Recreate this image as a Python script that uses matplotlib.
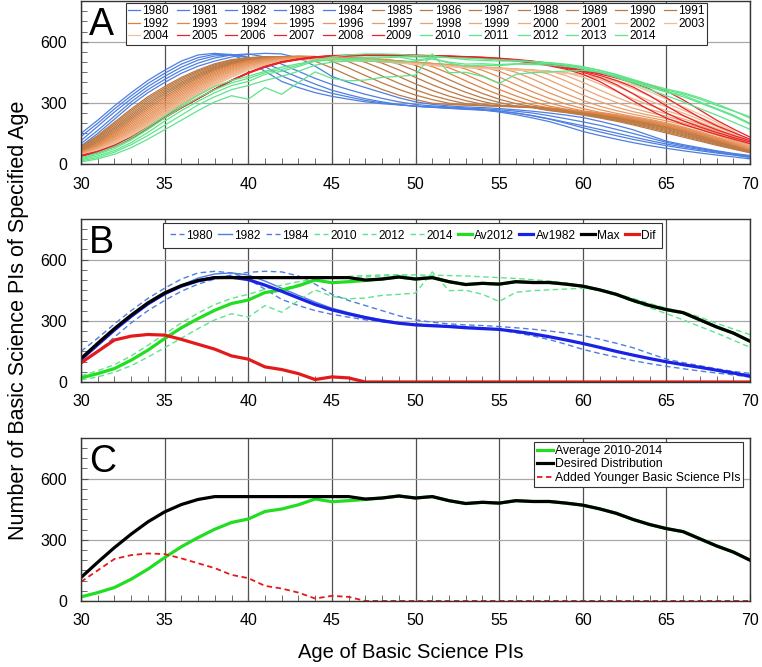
import numpy as np
import matplotlib
matplotlib.use("Agg")
import matplotlib.pyplot as plt
from matplotlib.ticker import MultipleLocator

plt.rcParams['font.family'] = ['Liberation Sans', 'DejaVu Sans']

ages = list(range(30, 71))

# panel A: PIs by age, one curve per year
y1980 = [150,215,285,350,410,460,505,535,543,535, 505,455,405,375,350,332,318,305,296,290, 284,280,276,272,266,255,242,226,208,185, 160,140,122,105,90,77,65,54,44,35,25]
y1981 = [135,200,270,335,395,445,490,522,538,538, 520,478,432,398,370,347,329,312,300,291, 283,279,274,270,266,260,250,236,220,200, 178,158,139,121,105,90,77,65,54,44,32]
y1982 = [115,185,255,320,380,430,475,510,530,535, 525,495,460,425,392,362,340,320,305,292, 283,278,273,268,264,258,250,238,222,205, 188,170,152,133,115,98,84,71,58,46,34]
y1983 = [100,165,235,305,365,415,460,495,520,535, 540,525,490,455,420,390,365,342,322,305, 292,285,280,275,271,266,259,250,237,222, 207,190,170,150,128,106,90,76,62,50,38]
y1984 = [88,150,220,290,350,400,445,480,505,525, 538,543,540,520,480,430,400,375,350,325, 305,293,285,280,277,272,266,259,250,240, 228,210,190,168,140,112,95,80,65,52,42]
y1985 = [85,140,205,270,330,380,425,462,492,512, 522,526,527,526,504,471,434,398,366,338, 316,298,292,289,286,283,280,276,262,252, 240,226,210,192,172,152,132,112,92,73,55]
y1986 = [82,135,198,262,322,372,418,456,487,508, 520,525,527,527,526,504,471,434,398,366, 338,316,298,290,287,284,281,277,264,254, 243,229,214,197,178,158,138,117,96,76,57]
y1987 = [78,130,190,253,313,364,410,450,482,504, 518,524,527,528,527,524,502,469,432,396, 364,336,314,296,288,285,282,278,266,256, 245,232,217,201,183,164,143,122,100,79,59]
y1988 = [74,124,182,244,304,356,402,443,477,500, 515,523,526,528,527,525,521,499,466,429, 393,361,333,311,293,286,283,279,268,258, 248,235,221,205,188,169,148,126,104,82,61]
y1989 = [70,118,175,236,295,348,395,437,472,497, 513,522,526,528,527,525,521,517,495,462, 425,389,357,329,307,289,284,280,270,261, 250,238,224,209,192,174,153,130,107,85,63]
y1990 = [66,112,168,228,286,340,388,431,467,494, 511,521,525,527,527,524,521,517,512,490, 457,420,384,352,324,302,284,281,272,263, 252,240,227,212,196,178,158,135,111,88,65]
y1991 = [62,106,160,220,277,330,380,424,462,490, 510,520,525,527,526,524,521,517,512,506, 484,451,414,378,346,318,296,282,274,265, 254,243,230,215,199,182,162,139,115,91,67]
y1992 = [60,100,153,212,268,322,372,417,456,486, 507,518,524,526,526,524,521,517,512,506, 500,478,445,408,372,340,312,290,276,267, 256,245,233,219,203,186,166,143,118,94,69]
y1993 = [58,96,147,204,259,313,364,410,450,481, 504,516,522,525,525,524,521,517,512,506, 500,494,472,439,402,366,334,306,284,269, 258,248,236,222,207,190,170,147,122,97,71]
y1994 = [56,92,141,196,250,304,356,403,444,476, 500,513,520,524,524,523,520,516,511,505, 499,493,488,466,433,396,360,328,300,278, 261,251,239,226,211,194,174,151,125,100,73]
y1995 = [54,88,135,188,241,295,348,396,438,471, 496,510,518,522,523,522,519,515,510,504, 498,492,487,482,460,427,390,354,322,294, 272,254,242,229,214,198,178,155,129,103,75]
y1996 = [52,85,130,181,233,287,340,389,432,466, 492,507,516,520,521,520,518,514,509,503, 497,491,486,481,477,455,422,385,349,317, 289,267,249,233,219,202,182,159,133,106,77]
y1997 = [50,82,125,174,225,279,332,382,426,461, 488,504,514,519,520,519,517,513,508,502, 496,490,485,480,476,472,450,417,380,344, 312,284,262,244,228,212,192,168,142,112,81]
y1998 = [48,79,120,168,218,271,324,375,420,456, 484,501,512,518,518,518,516,512,507,501, 495,489,484,479,475,471,467,445,412,375, 339,307,279,257,239,223,202,178,150,118,84]
y1999 = [47,76,116,162,211,264,317,368,414,451, 480,498,510,516,516,517,515,511,506,500, 494,488,483,478,474,470,466,462,440,407, 370,334,302,274,252,234,212,188,160,126,88]
y2000 = [46,74,112,157,205,257,310,361,408,446, 476,495,508,515,515,516,514,510,505,499, 493,487,482,477,473,469,465,461,456,434, 401,364,328,296,268,246,222,196,166,132,92]
y2001 = [45,72,108,152,199,250,303,354,402,441, 472,492,506,514,514,515,513,509,504,498, 492,486,481,476,472,468,464,460,455,448, 426,393,356,320,288,262,236,206,174,138,96]
y2002 = [44,70,105,147,194,244,297,348,396,436, 468,489,504,513,513,514,512,508,503,497, 491,485,480,475,471,467,463,459,454,447, 438,416,383,346,310,280,250,218,184,146,100]
y2003 = [43,68,102,143,189,239,291,342,390,431, 464,486,502,512,512,513,511,507,502,496, 490,484,479,474,470,466,462,458,453,446, 437,425,403,370,333,298,264,230,194,154,105]
y2004 = [42,65,98,139,184,235,285,336,384,426, 460,483,500,511,511,512,510,506,501,495, 489,483,478,473,469,465,461,457,452,445, 436,424,410,388,355,318,280,244,205,162,110]
y2005 = [42,62,92,132,180,230,278,322,368,410, 445,475,498,512,522,528,530,532,532,532, 530,528,526,522,518,512,505,495,482,465, 440,405,360,310,265,225,195,170,145,122,100]
y2006 = [41,60,90,130,178,229,277,321,367,409, 446,476,499,513,523,529,531,533,533,533, 531,529,527,524,520,514,507,498,486,470, 450,425,390,345,295,250,212,182,155,130,108]
y2007 = [40,58,88,128,176,228,276,321,367,410, 447,477,500,514,524,530,532,534,534,534, 532,530,528,525,521,516,509,500,489,474, 455,435,410,378,335,285,238,200,168,140,115]
y2008 = [39,57,87,127,175,227,276,321,367,410, 448,478,501,515,525,531,533,535,535,535, 533,531,529,526,523,518,511,503,492,477, 458,442,422,398,368,325,275,228,188,155,122]
y2009 = [38,55,85,125,173,226,275,321,367,411, 449,479,502,516,526,532,534,536,536,536, 534,532,530,527,524,519,513,505,494,479, 460,447,430,410,388,358,315,265,215,172,132]
y2010 = [30,55,85,128,180,235,290,338,380,410, 430,455,475,492,505,512,518,522,525,526, 525,524,522,520,516,512,508,502,495,485, 470,450,425,395,365,335,305,272,240,205,170]
y2011 = [25,48,76,118,170,225,278,325,365,398, 420,448,465,485,510,525,535,540,540,538, 532,530,522,512,508,505,505,502,498,490, 478,460,436,408,380,352,330,300,268,235,195]
y2012 = [20,40,66,105,155,210,262,308,350,385, 405,440,455,478,505,510,512,515,520,525, 510,520,495,480,485,482,490,488,486,478, 468,452,430,402,376,355,338,305,272,240,200]
y2013 = [15,32,58,95,140,190,240,290,330,365, 385,410,430,455,485,500,505,505,502,500, 505,515,500,490,492,488,492,495,492,485, 475,460,440,415,390,368,350,325,295,262,225]
y2014 = [10,25,48,80,122,168,215,262,305,335, 318,375,342,400,452,420,408,412,425,430, 436,540,448,450,430,395,440,448,452,456, 460,450,432,410,385,362,345,318,288,260,232]

years = list(range(1980, 2015))
year_series = [y1980, y1981, y1982, y1983, y1984, y1985, y1986, y1987, y1988, y1989,
               y1990, y1991, y1992, y1993, y1994, y1995, y1996, y1997, y1998, y1999,
               y2000, y2001, y2002, y2003, y2004, y2005, y2006, y2007, y2008, y2009,
               y2010, y2011, y2012, y2013, y2014]

# panel B / C summary curves
av1982 = [110,183,255,322,383,433,470,496,512,514, 502,475,445,412,380,354,334,316,300,288, 280,276,272,266,262,258,248,236,222,206, 189,170,150,132,115,99,85,72,58,44,28]
av2012 = [20,41,66,107,156,213,266,311,352,385, 402,439,451,472,500,487,492,498,505,515, 505,512,492,478,484,480,492,488,488,480, 470,452,430,400,375,355,340,305,270,240,200]
max_dist = [115,190,262,328,388,437,473,498,512,512, 512,512,512,512,512,512,512,500,505,515, 505,512,492,478,484,480,492,488,488,480, 470,452,430,400,375,355,340,305,270,240,200]
dif = [94,150,206,225,233,230,209,185,161,128, 112,74,61,41,12,25,20,0,0,0, 0,0,0,0,0,0,0,0,0,0, 0,0,0,0,0,0,0,0,0,0,0]


def year_color(yr):
    if yr <= 1984:
        return '#4E7FE0'
    if yr <= 1991:
        return '#BC7A45'
    if yr <= 2004:
        t = (yr - 1992) / 12.0
        c0 = np.array([0xDE, 0x80, 0x40]) / 255
        c1 = np.array([0xF4, 0xC0, 0x9C]) / 255
        return tuple(c0 + (c1 - c0) * t)
    if yr <= 2009:
        return '#E8232A'
    return '#5FE48A'


def style_axes(ax):
    ax.set_xlim(30, 70)
    ax.set_ylim(0, 800)
    ax.set_xticks(range(30, 71, 5))
    ax.set_yticks([0, 300, 600])
    ax.xaxis.set_minor_locator(MultipleLocator(1))
    ax.yaxis.set_minor_locator(MultipleLocator(50))
    ax.tick_params(which='both', direction='in', top=False, right=False,
                   labelsize=11.5, color='#555555')
    ax.tick_params(which='major', length=5)
    ax.tick_params(which='minor', length=4)
    ax.tick_params(axis='x', pad=9)
    ax.tick_params(axis='y', pad=10)
    ax.grid(axis='x', which='major', color='#505050', lw=0.9)
    ax.grid(axis='y', which='major', color='#A8A8A8', lw=0.9)
    ax.set_axisbelow(True)
    for s in ax.spines.values():
        s.set_color('#333333')
        s.set_linewidth(1.0)


def frame_legend(leg):
    leg.get_frame().set_linewidth(0.8)
    leg.get_frame().set_alpha(1)


fig = plt.figure(figsize=(7.62, 6.67), dpi=100)
axA = fig.add_axes([0.1063, 0.7541, 0.878, 0.2445])
axB = fig.add_axes([0.1063, 0.4273, 0.878, 0.2445])
axC = fig.add_axes([0.1063, 0.0990, 0.878, 0.2445])

# ---- A
lines = []
for yr, vals in zip(years, year_series):
    ln, = axA.plot(ages, vals, color=year_color(yr), lw=0.9, label=str(yr))
    lines.append(ln)
style_axes(axA)
# legend reads row by row, matplotlib fills column by column
ncol = 12
order = [i for c in range(ncol) for i in range(c, len(lines), ncol)]
legA = axA.legend([lines[i] for i in order], [str(years[i]) for i in order],
                  ncol=ncol, loc='upper left', bbox_to_anchor=(0.064, 1.0),
                  fontsize=8.6, frameon=True, fancybox=False,
                  edgecolor='#333333', handlelength=1.0, handletextpad=0.2,
                  columnspacing=0.66, labelspacing=0.05, borderpad=0.2, borderaxespad=0.15)
frame_legend(legA)
axA.text(0.012, 0.965, 'A', transform=axA.transAxes, fontsize=27, va='top', ha='left')

# ---- B
dash = (0, (4, 2.5))
axB.plot(ages, y1980, color='#4E7FE0', lw=1.0, ls=dash, label='1980')
axB.plot(ages, y1982, color='#4E7FE0', lw=1.0, label='1982')
axB.plot(ages, y1984, color='#4E7FE0', lw=1.0, ls=dash, label='1984')
axB.plot(ages, y2010, color='#5FE48A', lw=1.0, ls=dash, label='2010')
axB.plot(ages, y2012, color='#5FE48A', lw=1.0, ls=dash, label='2012')
axB.plot(ages, y2014, color='#5FE48A', lw=1.0, ls=dash, label='2014')
axB.plot(ages, av2012, color='#22DD22', lw=2.3, label='Av2012')
axB.plot(ages, av1982, color='#1A22E6', lw=2.3, label='Av1982')
axB.plot(ages, max_dist, color='black', lw=2.3, label='Max')
axB.plot(ages, dif, color='#E41A1A', lw=2.3, label='Dif')
style_axes(axB)
legB = axB.legend(ncol=10, loc='upper left', bbox_to_anchor=(0.123, 0.975),
                  fontsize=8.6, frameon=True, fancybox=False,
                  edgecolor='#333333', handlelength=1.15, handletextpad=0.2,
                  columnspacing=0.45, borderpad=0.55, borderaxespad=0.0)
frame_legend(legB)
axB.text(0.012, 0.965, 'B', transform=axB.transAxes, fontsize=27, va='top', ha='left')

# ---- C
axC.plot(ages, av2012, color='#22DD22', lw=2.3, label='Average 2010-2014')
axC.plot(ages, max_dist, color='black', lw=2.3, label='Desired Distribution')
axC.plot(ages, dif, color='#E41A1A', lw=1.3, ls=(0, (3, 2)), label='Added Younger Basic Science PIs')
style_axes(axC)
legC = axC.legend(loc='upper right', bbox_to_anchor=(0.99, 0.975),
                  fontsize=8.8, frameon=True, fancybox=False,
                  edgecolor='#333333', handlelength=1.3, handletextpad=0.15,
                  labelspacing=0.12, borderpad=0.25, borderaxespad=0.0)
frame_legend(legC)
axC.text(0.012, 0.965, 'C', transform=axC.transAxes, fontsize=27, va='top', ha='left')

fig.text(0.024, 0.52, 'Number of Basic Science PIs of Specified Age', rotation=90,
         ha='center', va='center', fontsize=15.5)
fig.text(0.539, 0.022, 'Age of Basic Science PIs', ha='center', va='center', fontsize=14.5)

fig.savefig('out.png', dpi=100)
